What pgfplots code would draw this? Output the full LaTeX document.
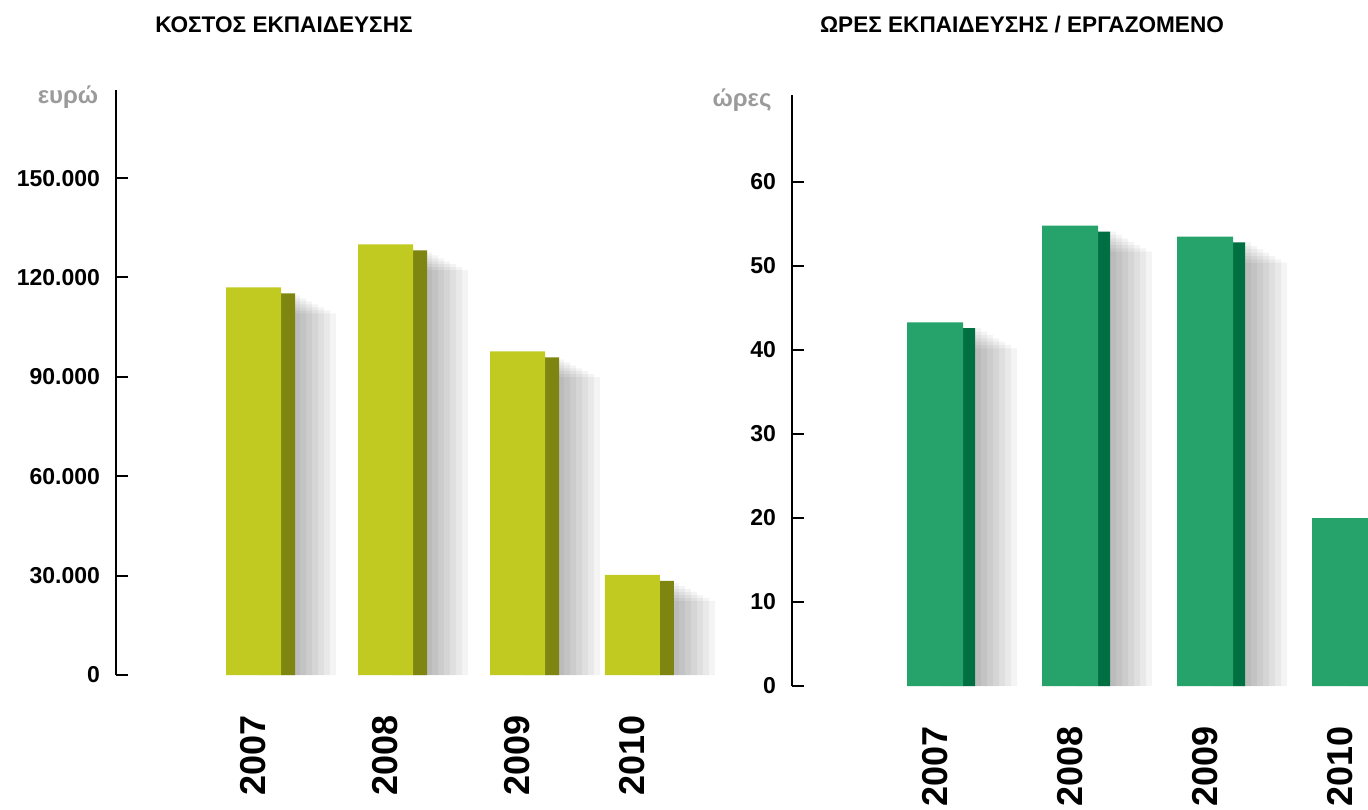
\documentclass[border=0pt]{standalone}
\usepackage{fontspec}
\setmainfont{Liberation Sans}
\usepackage{pgfplots}
\pgfplotsset{compat=1.18}
\definecolor{limeF}{RGB}{192,202,32}
\definecolor{limeS}{RGB}{126,133,16}
\definecolor{greenF}{RGB}{37,163,106}
\definecolor{greenS}{RGB}{0,112,66}
\definecolor{unitgray}{RGB}{155,155,155}
\pgfplotsset{
  mybars/.style={
    scale only axis, axis lines=left,
    x axis line style={draw=none}, y axis line style={-, line width=1pt},
    xtick style={draw=none}, ytick style={line width=1pt, black},
    tick align=inside, major tick length=6pt,
    xtick=data, xticklabels={2007,2008,2009,2010},
    xticklabel style={rotate=90, anchor=east, inner sep=0pt, font=\fontsize{18}{18}\selectfont\bfseries},
    xticklabel shift=20pt,
    yticklabel style={font=\fontsize{11.5}{12}\selectfont\bfseries},
    yticklabel shift=4.5pt,
    /pgf/number format/assume math mode=true,
    enlargelimits=false, clip=false, ymin=0,
  },
  shad/.style={ybar, draw=none, fill=black, fill opacity=0.045},
}
\begin{document}
\begin{tikzpicture}
\useasboundingbox (0,0) rectangle (684pt,404.5pt);
% left panel
\begin{axis}[mybars, at={(58pt,67pt)}, anchor=south west, width=287pt, height=292.5pt,
  xmin=-1.0417, xmax=3.3068, ymax=176600,
  ytick={0,30000,60000,90000,120000,150000}, scaled y ticks=false,
  /pgf/number format/fixed, /pgf/number format/1000 sep={.}]
\addplot[shad, bar width=38pt, bar shift=22.25pt] coordinates {(0,109200) (1,122200) (2,89900) (2.871,22400)};
\addplot[shad, bar width=35pt, bar shift=20.75pt] coordinates {(0,110100) (1,123100) (2,90800) (2.871,23300)};
\addplot[shad, bar width=32pt, bar shift=19.25pt] coordinates {(0,111000) (1,124000) (2,91700) (2.871,24200)};
\addplot[shad, bar width=29pt, bar shift=17.75pt] coordinates {(0,111900) (1,124900) (2,92600) (2.871,25100)};
\addplot[shad, bar width=26pt, bar shift=16.25pt] coordinates {(0,112800) (1,125800) (2,93500) (2.871,26000)};
\addplot[shad, bar width=23pt, bar shift=14.75pt] coordinates {(0,113700) (1,126700) (2,94400) (2.871,26900)};
\addplot[shad, bar width=20pt, bar shift=13.25pt] coordinates {(0,114600) (1,127600) (2,95300) (2.871,27800)};
\addplot[ybar, draw=none, fill=limeS, bar width=7pt, bar shift=17.25pt] coordinates {(0,115200) (1,128200) (2,95900) (2.871,28400)};
\addplot[ybar, draw=none, fill=limeF, bar width=27.5pt, bar shift=0pt] coordinates {(0,117000) (1,130000) (2,97700) (2.871,30200)};
\end{axis}
% right panel
\begin{axis}[mybars, at={(396pt,61.5pt)}, anchor=south west, width=288pt, height=295.5pt,
  xmin=-1.0593, xmax=3.2074, ymax=70.36,
  ytick={0,10,20,30,40,50,60}]
\addplot[shad, bar width=38pt, bar shift=22pt] coordinates {(0,40.2) (1,51.7) (2,50.4) (3,16.9)};
\addplot[shad, bar width=35pt, bar shift=20.5pt] coordinates {(0,40.6) (1,52.1) (2,50.8) (3,17.3)};
\addplot[shad, bar width=32pt, bar shift=19pt] coordinates {(0,41.0) (1,52.5) (2,51.2) (3,17.7)};
\addplot[shad, bar width=29pt, bar shift=17.5pt] coordinates {(0,41.4) (1,52.9) (2,51.6) (3,18.1)};
\addplot[shad, bar width=26pt, bar shift=16pt] coordinates {(0,41.8) (1,53.3) (2,52.0) (3,18.5)};
\addplot[shad, bar width=23pt, bar shift=14.5pt] coordinates {(0,42.2) (1,53.7) (2,52.4) (3,18.9)};
\addplot[shad, bar width=20pt, bar shift=13pt] coordinates {(0,42.6) (1,54.1) (2,52.8) (3,19.3)};
\addplot[ybar, draw=none, fill=greenS, bar width=6pt, bar shift=17pt] coordinates {(0,42.6) (1,54.1) (2,52.8) (3,19.3)};
\addplot[ybar, draw=none, fill=greenF, bar width=28pt, bar shift=0pt] coordinates {(0,43.3) (1,54.8) (2,53.5) (3,20.0)};
\end{axis}
\node[font=\fontsize{11.3}{12}\selectfont\bfseries] at (142pt,392pt) {ΚΟΣΤΟΣ ΕΚΠΑΙΔΕΥΣΗΣ};
\node[font=\fontsize{11.3}{12}\selectfont\bfseries] at (511pt,392pt) {ΩΡΕΣ ΕΚΠΑΙΔΕΥΣΗΣ / ΕΡΓΑΖΟΜΕΝΟ};
\node[font=\fontsize{12}{12}\selectfont\bfseries, text=unitgray] at (34pt,356pt) {ευρώ};
\node[font=\fontsize{12}{12}\selectfont\bfseries, text=unitgray] at (371pt,354.5pt) {ώρες};
\end{tikzpicture}
\end{document}
